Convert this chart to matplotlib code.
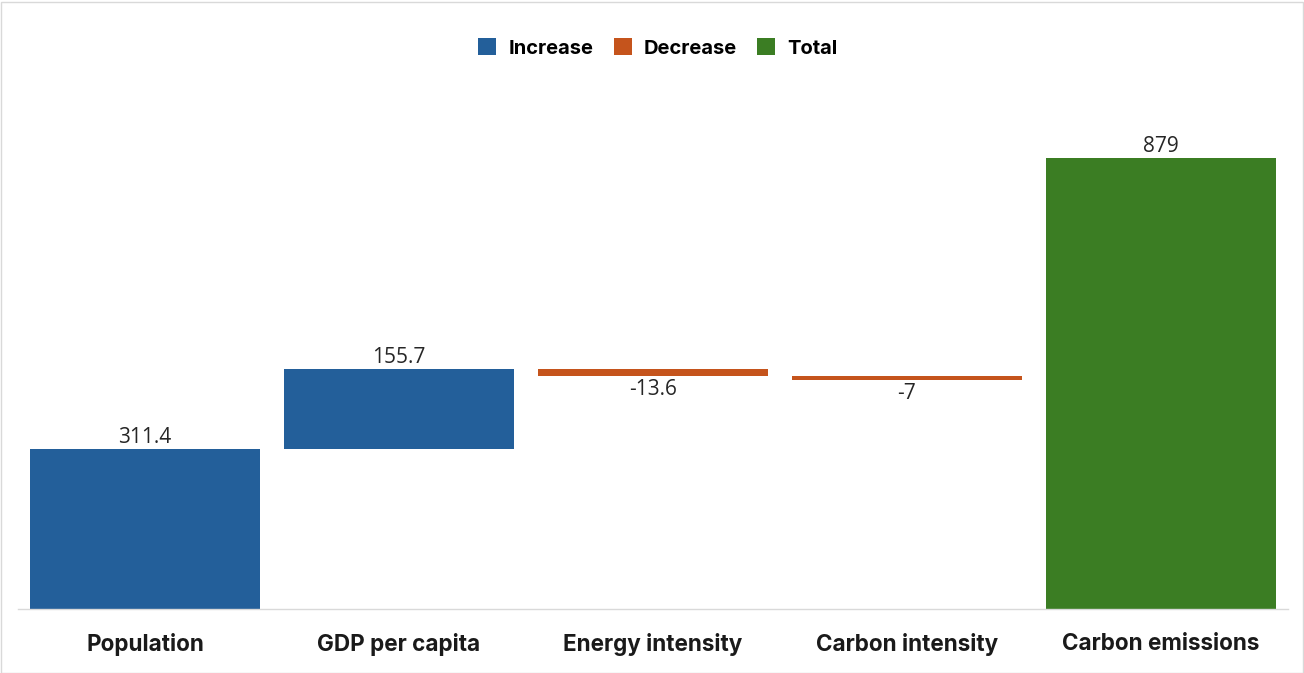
import matplotlib
matplotlib.use("Agg")
import matplotlib.pyplot as plt
from matplotlib.patches import Patch, Rectangle

categories = ["Population", "GDP per capita", "Energy intensity", "Carbon intensity", "Carbon emissions"]
values = [311.4, 155.7, -13.6, -7, 879]
kinds = ["inc", "inc", "dec", "dec", "total"]
labels = ["311.4", "155.7", "-13.6", "-7", "879"]

colors = {"inc": "#235F9A", "dec": "#C5541C", "total": "#3B7D23"}

fig = plt.figure(figsize=(13.04, 6.73), dpi=100)
fig.patch.set_facecolor("white")
fig.patches.append(Rectangle((0.5/1304, 0.5/673), 1 - 2/1304, 1 - 2/673, transform=fig.transFigure,
                             fill=False, edgecolor="#D9D9D9", linewidth=1))
ax = fig.add_axes([18/1304, 64/673, 1270/1304, 513/673])

run = 0.0
for i, (v, k, lab) in enumerate(zip(values, kinds, labels)):
    if k == "total":
        bottom, height = 0, v
    else:
        bottom = run if v >= 0 else run + v
        height = abs(v)
        run += v
    ax.bar(i, height, bottom=bottom, width=0.905, color=colors[k], linewidth=0)
    if v >= 0:
        ax.text(i, bottom + height + 3, lab, ha="center", va="bottom", fontsize=15,
                family="Open Sans", color="#262626")
    else:
        ax.text(i, bottom - 6, lab, ha="center", va="top", fontsize=15,
                family="Open Sans", color="#262626")

ax.set_xlim(-0.5, 4.5)
ax.set_ylim(0, 1000)
ax.set_yticks([])
ax.set_xticks(range(len(categories)))
ax.set_xticklabels(categories, fontsize=16.2, fontweight="bold", family="Inter", color="#1a1a1a")
ax.tick_params(axis="x", length=0, pad=17.5)
for s in ["top", "right", "left"]:
    ax.spines[s].set_visible(False)
ax.spines["bottom"].set_color("#D9D9D9")
ax.spines["bottom"].set_linewidth(1)

handles = [Patch(facecolor=colors["inc"], label="Increase"),
           Patch(facecolor=colors["dec"], label="Decrease"),
           Patch(facecolor=colors["total"], label="Total")]
fig.legend(handles=handles, loc="center", bbox_to_anchor=(658/1304, 1 - 48/673), ncol=3,
           frameon=False, prop={"family": "Inter", "weight": "bold", "size": 14.5},
           handlelength=0.9, handleheight=0.9, handletextpad=0.6, columnspacing=1.0)

fig.savefig("out.png", dpi=100, facecolor="white")
